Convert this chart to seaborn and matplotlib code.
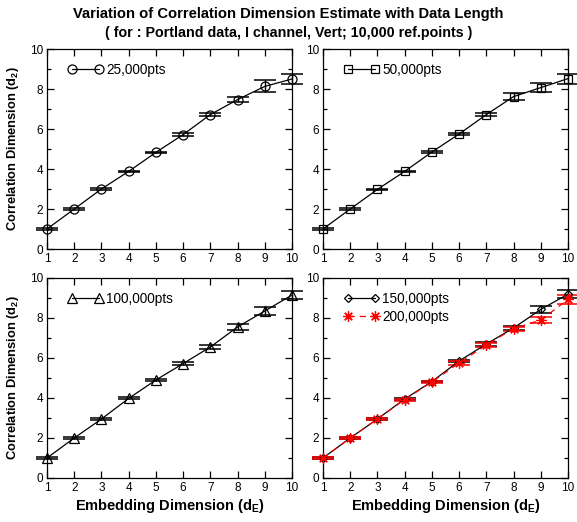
import numpy as np
import pandas as pd
import matplotlib
matplotlib.use("Agg")
import matplotlib.pyplot as plt
from matplotlib.ticker import MultipleLocator
import seaborn as sns

# Embedding dimensions
d_e = [1, 2, 3, 4, 5, 6, 7, 8, 9, 10]

# Correlation dimension estimates and their uncertainties per data length
d2_25k = [1.00, 2.00, 3.00, 3.88, 4.83, 5.72, 6.72, 7.47, 8.13, 8.50]
err_25k = [0.03, 0.04, 0.04, 0.04, 0.04, 0.06, 0.08, 0.14, 0.30, 0.27]

d2_50k = [1.00, 2.00, 2.98, 3.88, 4.85, 5.75, 6.72, 7.62, 8.07, 8.52]
err_50k = [0.03, 0.04, 0.04, 0.04, 0.05, 0.05, 0.09, 0.16, 0.22, 0.25]

d2_100k = [1.00, 2.00, 2.95, 3.98, 4.90, 5.72, 6.55, 7.55, 8.35, 9.15]
err_100k = [0.03, 0.04, 0.04, 0.05, 0.05, 0.06, 0.10, 0.15, 0.20, 0.22]

d2_150k = [1.00, 2.00, 2.95, 3.95, 4.82, 5.85, 6.70, 7.50, 8.43, 9.19]
err_150k = [0.03, 0.03, 0.04, 0.06, 0.04, 0.06, 0.08, 0.10, 0.16, 0.20]

d2_200k = [1.00, 2.00, 2.95, 3.92, 4.80, 5.75, 6.65, 7.47, 7.90, 8.93]
err_200k = [0.03, 0.03, 0.04, 0.05, 0.06, 0.08, 0.09, 0.10, 0.17, 0.23]

labels = ["25,000pts", "50,000pts", "100,000pts", "150,000pts", "200,000pts"]

sns.set_theme(style="ticks")
plt.rcParams["font.family"] = ["Liberation Sans", "DejaVu Sans"]
plt.rcParams["mathtext.fontset"] = "custom"
plt.rcParams["mathtext.rm"] = "Liberation Sans:bold"
plt.rcParams["mathtext.it"] = "Liberation Sans:bold"
plt.rcParams["mathtext.bf"] = "Liberation Sans:bold"
for key in ("text.color", "axes.labelcolor", "xtick.color", "ytick.color",
            "axes.edgecolor"):
    plt.rcParams[key] = "black"

W, H = 577, 522
fig = plt.figure(figsize=(W / 100, H / 100), dpi=100)

def frac(l, t, r, b):
    return [l / W, 1 - b / H, (r - l) / W, (b - t) / H]

axes = [
    fig.add_axes(frac(47, 49, 292, 249)),
    fig.add_axes(frac(323, 49, 568, 249)),
    fig.add_axes(frac(47, 278, 292, 478)),
    fig.add_axes(frac(323, 278, 568, 478)),
]

series = [
    [(d2_25k, err_25k, labels[0], "o", 6.5, "black", "-")],
    [(d2_50k, err_50k, labels[1], "s", 5.5, "black", "-")],
    [(d2_100k, err_100k, labels[2], "^", 6.5, "black", "-")],
    [(d2_150k, err_150k, labels[3], "D", 4.5, "black", "-"),
     (d2_200k, err_200k, labels[4], (8, 2, 0), 7.5, "red", (0, (5, 4)))],
]

for ax, group in zip(axes, series):
    for vals, errs, lab, mk, ms, col, ls in group:
        df = pd.DataFrame({"dE": d_e, "d2": vals})
        eb = ax.errorbar(d_e, vals, yerr=errs, fmt="none", ecolor=col,
                         elinewidth=1.0, capsize=8, capthick=1.1, zorder=2)
        for art in eb.lines[1] + eb.lines[2]:
            art.set_clip_on(False)
        sns.lineplot(data=df, x="dE", y="d2", ax=ax, color=col,
                     linestyle=ls, linewidth=0.9, marker=mk, markersize=ms,
                     markerfacecolor="none" if col == "black" else col,
                     markeredgecolor=col, markeredgewidth=0.9,
                     label=lab, zorder=3, clip_on=False)
    ax.set_xlim(1, 10)
    ax.set_ylim(0, 10)
    ax.xaxis.set_major_locator(MultipleLocator(1))
    ax.yaxis.set_major_locator(MultipleLocator(2))
    ax.yaxis.set_minor_locator(MultipleLocator(1))
    ax.tick_params(which="both", direction="in", top=True, right=True,
                   labelsize=8.5, pad=3, width=0.9, color="black",
                   labelcolor="black")
    ax.tick_params(which="major", length=5)
    ax.tick_params(which="minor", length=3)
    for s in ax.spines.values():
        s.set_linewidth(0.9)
        s.set_color("black")
    ax.set_xlabel("")
    ax.set_ylabel("")
    ax.legend(loc="upper left", frameon=False, fontsize=9.8,
              numpoints=2, handlelength=2.6, handletextpad=0.2,
              borderaxespad=0.5, labelspacing=0.25,
              bbox_to_anchor=(0.035, 0.99))

ylab = "Correlation Dimension (d$_2$)"
xlab = "Embedding Dimension (d$_E$)"
for ax in (axes[0], axes[2]):
    ax.set_ylabel(ylab, fontsize=9.3, fontweight="bold", labelpad=6,
                  color="black")
for ax in (axes[2], axes[3]):
    ax.set_xlabel(xlab, fontsize=10.5, fontweight="bold", labelpad=2,
                  color="black")

fig.text(0.5, 1 - 14 / H, "Variation of Correlation Dimension Estimate with Data Length",
         ha="center", va="center", fontsize=10.6, fontweight="bold",
         color="black")
fig.text(0.5, 1 - 33 / H, "( for : Portland data, I channel, Vert; 10,000 ref.points )",
         ha="center", va="center", fontsize=10.3, fontweight="bold",
         color="black")

fig.savefig("out.png", dpi=100, facecolor="white")
